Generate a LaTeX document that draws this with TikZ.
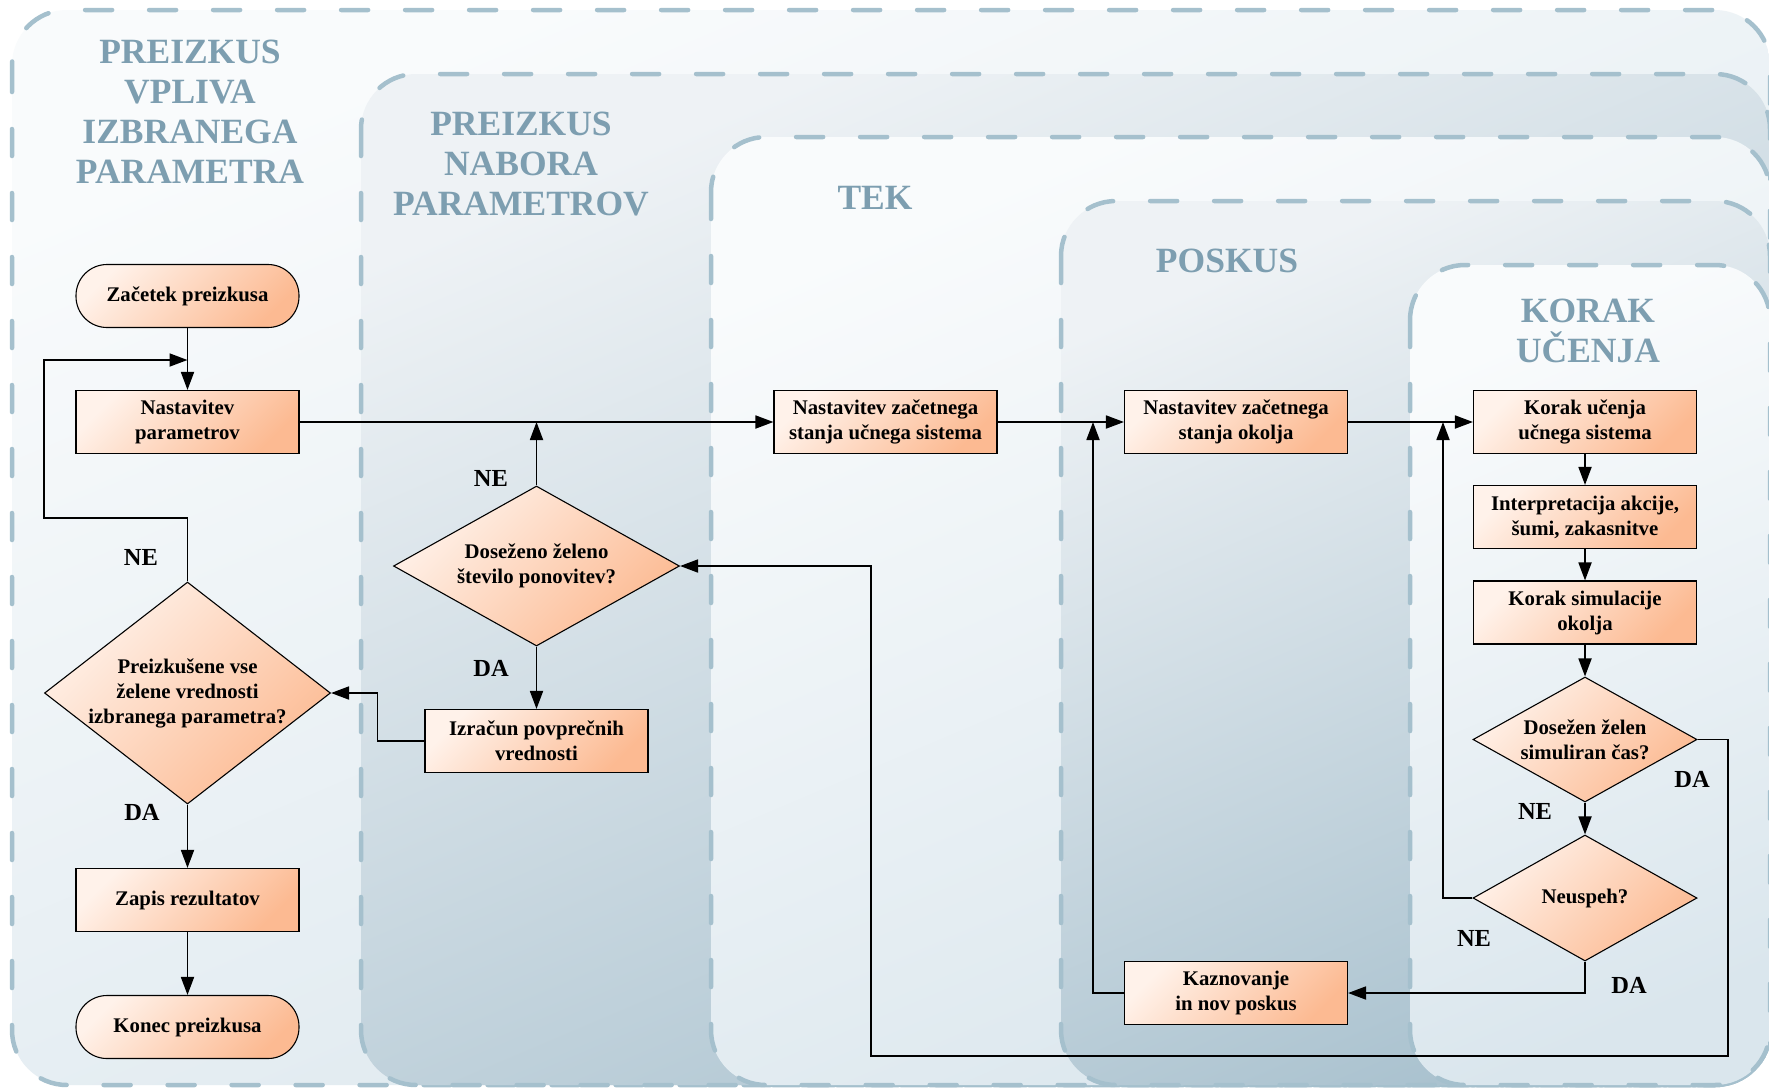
\documentclass[tikz,border=0pt]{standalone}
\usepackage{fontspec}
\setmainfont{Liberation Serif}
\usetikzlibrary{arrows.meta,shapes.geometric,calc}

% palette
\definecolor{frameline}{RGB}{165,192,205}
\definecolor{titleblue}{RGB}{125,158,176}
\definecolor{lightA}{RGB}{249,251,252}
\definecolor{lightB}{RGB}{218,230,237}
\definecolor{darkA}{RGB}{238,242,245}
\definecolor{darkB}{RGB}{170,194,207}
\definecolor{peachA}{RGB}{255,242,234}
\definecolor{peachB}{RGB}{252,186,146}

\tikzset{
  frame/.style={draw=frameline, line width=4.5pt, line cap=round,
    dash pattern=on 27pt off 37pt, rounded corners=55pt},
  lightframe/.style={frame, top color=lightA, bottom color=lightB, shading angle=23},
  darkframe/.style={frame, top color=darkA, bottom color=darkB, shading angle=23},
  frametitle/.style={text=titleblue, align=center, inner sep=0pt,
    font=\fontsize{35.5}{40}\selectfont\bfseries},
  proc/.style={rectangle, draw=black, line width=1.1pt,
    minimum width=223pt, minimum height=63pt, inner sep=0pt,
    top color=peachA, bottom color=peachB, shading angle=45,
    align=center, font=\fontsize{20.8}{25}\selectfont\bfseries},
  term/.style={proc, rounded corners=31pt},
  decision/.style={proc, diamond},
  answer/.style={inner sep=0pt, font=\fontsize{24.5}{28}\selectfont\bfseries},
  arr/.style={draw=black, line width=1.8pt, -{Triangle[length=18pt,width=13pt]}},
}

\begin{document}
\begin{tikzpicture}[x=1pt,y=-1pt]
\useasboundingbox (0,0) rectangle (1769,1088);
\fill[white] (0,0) rectangle (1769,1088);

% nested scopes of the experiment
\path[lightframe] (12,10)   rectangle (1770,1085);
\path[darkframe]  (361,74)  rectangle (1770,1085);
\path[lightframe] (711,137) rectangle (1770,1085);
\path[darkframe]  (1061,201) rectangle (1770,1085);
\path[lightframe] (1410,265) rectangle (1770,1085);

\node[frametitle] (tA) at (190,112) {PREIZKUS\\VPLIVA\\IZBRANEGA\\PARAMETRA};
\node[frametitle] (tB) at (521,164) {PREIZKUS\\NABORA\\PARAMETROV};
\node[frametitle] (tC) at (875,198) {TEK};
\node[frametitle] (tD) at (1227,261) {POSKUS};
\node[frametitle] (tE) at (1588,331) {KORAK\\UČENJA};

% flowchart nodes
\node[term] (start) at (187.5,296) {Začetek preizkusa};
\node[proc] (param) at (187.5,422) {Nastavitev\\parametrov};
\node[decision, minimum width=286pt, minimum height=222pt, shape aspect=1.29,
      inner sep=-3pt]
  (d1) at (187.5,693) {Preizkušene vse\\želene vrednosti\\izbranega parametra?};
\node[proc] (save) at (187.5,900) {Zapis rezultatov};
\node[term] (stop) at (187.5,1027) {Konec preizkusa};

\node[decision, minimum width=286pt, minimum height=160pt, shape aspect=1.79]
  (d2) at (536.5,566) {Doseženo želeno\\število ponovitev?};
\node[proc] (calc) at (536.5,741) {Izračun povprečnih\\vrednosti};

\node[proc] (sysinit) at (885.5,422) {Nastavitev začetnega\\stanja učnega sistema};
\node[proc] (envinit) at (1236,422) {Nastavitev začetnega\\stanja okolja};
\node[proc] (penal) at (1236,993) {Kaznovanje\\in nov poskus};

\node[proc] (learn) at (1585,422) {Korak učenja\\učnega sistema};
\node[proc] (interp) at (1585,517) {Interpretacija akcije,\\šumi, zakasnitve};
\node[proc] (simst) at (1585,612.5) {Korak simulacije\\okolja};
\node[decision, minimum width=224pt, minimum height=125pt, shape aspect=1.79]
  (dtime) at (1585,739.5) {Dosežen želen\\simuliran čas?};
\node[decision, minimum width=224pt, minimum height=126pt, shape aspect=1.78]
  (fail) at (1585,898) {Neuspeh?};

% turning points of the connectors
\coordinate (loopL) at (44,518);
\coordinate (loopT) at (187.5,360);
\coordinate (penUp) at (1093,422);
\coordinate (failUp) at (1443,422);
\coordinate (retR) at (1728,1056);
\coordinate (retL) at (871,1056);

% connectors
\draw[arr] (start) -- (param);
\draw[arr] (d1.north) |- (loopL) |- (loopT);
\draw[arr] (param) -- (sysinit);
\draw[arr] (d2.north) -- (d2.north |- param.east);
\draw[arr] (d2) -- (calc);
\draw[arr] (calc.west) -- ++(-47,0) |- (d1.east);
\draw[arr] (d1) -- (save);
\draw[arr] (save) -- (stop);
\draw[arr] (sysinit) -- (envinit);
\draw[arr] (envinit) -- (learn);
\draw[arr] (penal.west) -| (penUp);
\draw[arr] (learn) -- (interp);
\draw[arr] (interp) -- (simst);
\draw[arr] (simst) -- (dtime);
\draw[arr] (dtime) -- (fail);
\draw[arr] (fail.west) -| (failUp);
\draw[arr] (fail.south) |- (penal.east);
\draw[arr] (dtime.east) -| (retR) -- (retL) |- (d2.east);

% branch labels
\node[answer] (ne1) at (141,557) {NE};
\node[answer] (da1) at (142,812) {DA};
\node[answer] (ne2) at (491,478) {NE};
\node[answer] (da2) at (491,668) {DA};
\node[answer] (da3) at (1692,779) {DA};
\node[answer] (ne3) at (1535,811) {NE};
\node[answer] (ne4) at (1474,938) {NE};
\node[answer] (da4) at (1629,985) {DA};
\end{tikzpicture}
\end{document}
